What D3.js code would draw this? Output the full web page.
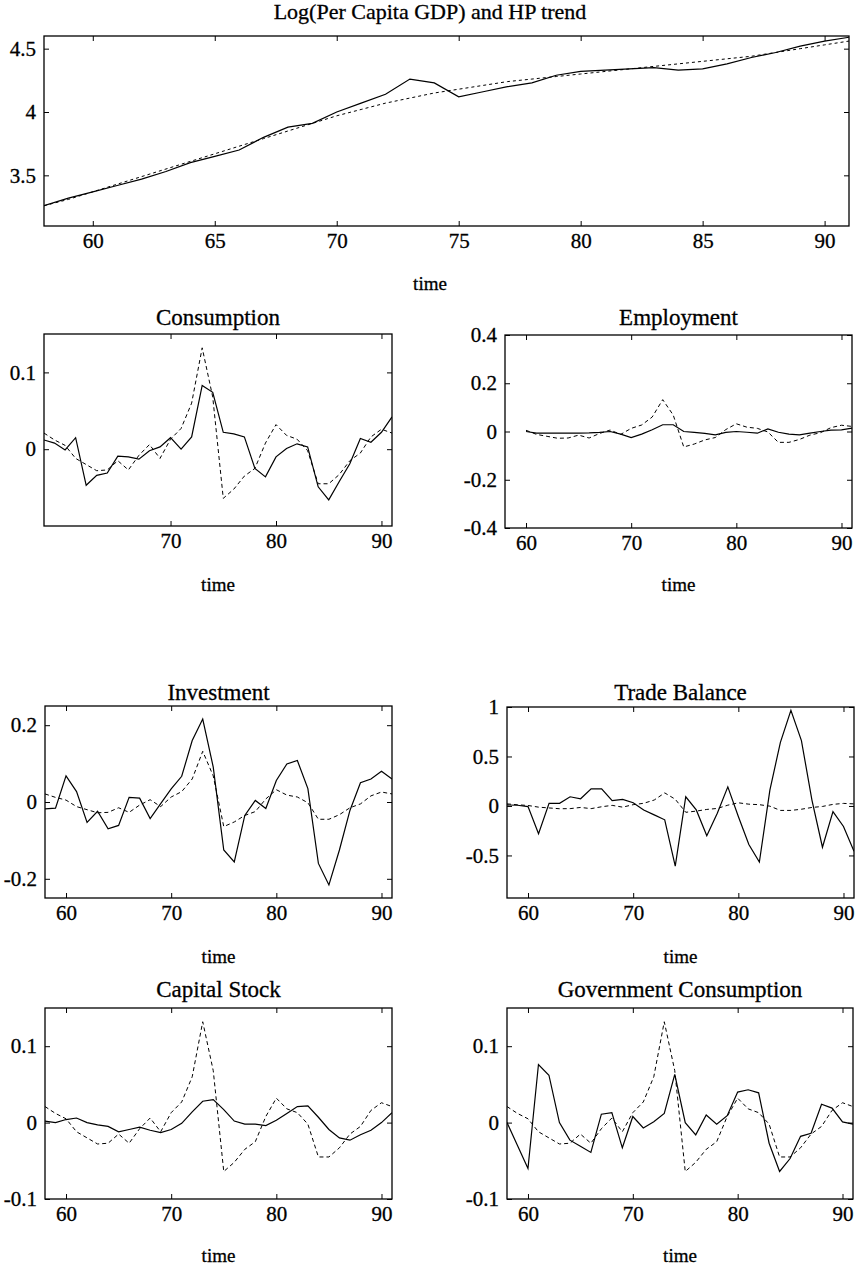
<!DOCTYPE html>
<html>
<head>
<meta charset="utf-8">
<script src="https://cdn.jsdelivr.net/npm/d3@7/dist/d3.min.js"></script>
<style>
body { margin: 0; background: #fff; }
svg text { font-family: "Liberation Serif", "Times New Roman", serif; fill: #000; stroke: #000; stroke-width: 0.3px; }
</style>
</head>
<body>
<svg id="chart" width="859" height="1269"></svg>
<script>
// years 1958-1991 (two digit labels as on the original)
var years = [58,59,60,61,62,63,64,65,66,67,68,69,70,71,72,73,74,75,76,77,78,79,80,81,82,83,84,85,86,87,88,89,90,91];

// top panel: log per capita GDP and its HP trend
var gdpLog   = [3.26,3.32,3.37,3.42,3.47,3.53,3.60,3.65,3.70,3.80,3.88,3.91,4.00,4.07,4.14,4.26,4.23,4.12,4.16,4.20,4.23,4.29,4.32,4.33,4.34,4.35,4.33,4.34,4.38,4.43,4.47,4.52,4.56,4.59];
var gdpTrend = [3.26,3.31,3.37,3.43,3.49,3.55,3.61,3.67,3.73,3.79,3.85,3.91,3.97,4.02,4.07,4.11,4.15,4.18,4.21,4.24,4.26,4.28,4.30,4.32,4.34,4.36,4.38,4.40,4.42,4.44,4.47,4.50,4.53,4.56];

// cyclical component of GDP (dashed line in every small panel)
var gdpCycle = [0.021,0.012,0.005,-0.012,-0.020,-0.028,-0.027,-0.015,-0.027,-0.008,0.006,-0.012,0.013,0.027,0.060,0.132,0.068,-0.064,-0.052,-0.035,-0.025,0.008,0.032,0.018,0.013,-0.002,-0.045,-0.045,-0.033,-0.015,-0.005,0.016,0.026,0.021];

// cyclical components of the other series (solid lines)
var consumption  = [0.012,0.008,-0.001,0.015,-0.047,-0.034,-0.031,-0.009,-0.010,-0.013,-0.002,0.003,0.015,0.000,0.016,0.083,0.074,0.022,0.020,0.016,-0.025,-0.036,-0.010,0.001,0.007,0.003,-0.049,-0.066,-0.042,-0.019,0.014,0.009,0.022,0.042];
var employment   = [null,null,0.000,-0.007,-0.007,-0.007,-0.007,-0.007,-0.006,-0.004,0.000,-0.011,-0.025,-0.011,0.007,0.028,0.028,0.000,-0.004,-0.008,-0.014,-0.004,0.000,-0.003,-0.007,0.011,-0.003,-0.011,-0.014,-0.007,0.000,0.006,0.007,0.014];
var investment   = [-0.018,-0.016,0.068,0.027,-0.053,-0.024,-0.070,-0.061,0.012,0.010,-0.043,-0.004,0.034,0.067,0.160,0.216,0.091,-0.125,-0.156,-0.035,0.004,-0.017,0.056,0.099,0.108,0.035,-0.160,-0.216,-0.125,-0.022,0.050,0.060,0.080,0.060];
var tradeBalance = [0.010,0.007,-0.007,-0.280,0.027,0.027,0.093,0.073,0.173,0.173,0.053,0.067,0.033,-0.040,-0.090,-0.140,-0.607,0.093,-0.040,-0.300,-0.073,0.193,-0.107,-0.390,-0.567,0.160,0.643,0.967,0.660,0.060,-0.417,-0.057,-0.207,-0.457];
var capitalStock = [0.002,0.000,0.004,0.006,0.000,-0.003,-0.005,-0.012,-0.009,-0.006,-0.010,-0.013,-0.009,-0.001,0.014,0.028,0.030,0.017,0.002,-0.002,-0.002,-0.004,0.003,0.012,0.021,0.022,0.007,-0.009,-0.020,-0.023,-0.016,-0.010,0.000,0.013];
var govConsumption = [0.000,-0.030,-0.060,0.076,0.062,0.000,-0.023,-0.031,-0.039,0.011,0.013,-0.033,0.008,-0.007,0.001,0.012,0.063,0.000,-0.016,0.010,-0.002,0.009,0.040,0.043,0.039,-0.027,-0.064,-0.047,-0.018,-0.014,0.024,0.019,0.001,-0.002];

// tick labels
var topXTicks = [60,65,70,75,80,85,90];
var topYTicks = [3.5,4,4.5];
var xTicks = [60,70,80,90];
var consXTicks = [70,80,90];
var consYTicks = [0,0.1];
var empYTicks = [-0.4,-0.2,0,0.2,0.4];
var invYTicks = [-0.2,0,0.2];
var tradeYTicks = [-0.5,0,0.5,1];
var smallYTicks = [-0.1,0,0.1];

var svg = d3.select("#chart");

// panel layout (pixel boxes of the plot frames)
var panels = [
  {title:"Log(Per Capita GDP) and HP trend", solid:gdpLog, dashed:gdpTrend, yDom:[3.1,4.6], xt:topXTicks, yt:topYTicks,
   x0:44, x1:849, y0:36, y1:226, tx:430, ty:11, ly:283, tsize:22, dash:"3,3"},
  {title:"Consumption", solid:consumption, dashed:gdpCycle, yDom:[-0.1,0.15], xt:consXTicks, yt:consYTicks,
   x0:44, x1:392, y0:334, y1:526, ty:317, ly:584},
  {title:"Employment", solid:employment, dashed:gdpCycle, start:60, yDom:[-0.4,0.4], xt:xTicks, yt:empYTicks,
   x0:505, x1:852, y0:335, y1:528, ty:317, ly:584},
  {title:"Investment", solid:investment, dashed:gdpCycle, yDom:[-0.25,0.25], xt:xTicks, yt:invYTicks,
   x0:45, x1:392, y0:706, y1:898, ty:692, ly:956},
  {title:"Trade Balance", solid:tradeBalance, dashed:gdpCycle, yDom:[-0.93,1], xt:xTicks, yt:tradeYTicks,
   x0:507, x1:854, y0:707, y1:898, ty:692, ly:956},
  {title:"Capital Stock", solid:capitalStock, dashed:gdpCycle, yDom:[-0.1,0.15], xt:xTicks, yt:smallYTicks,
   x0:45, x1:392, y0:1008, y1:1199, ty:989, ly:1255},
  {title:"Government Consumption", solid:govConsumption, dashed:gdpCycle, yDom:[-0.1,0.15], xt:xTicks, yt:smallYTicks,
   x0:507, x1:853, y0:1008, y1:1199, ty:989, ly:1255}
];

function fmt(d){ return String(d); }

panels.forEach(function(p, i){
  var g = svg.append("g");
  var x = d3.scaleLinear().domain([58, 91]).range([p.x0, p.x1]);
  var y = d3.scaleLinear().domain(p.yDom).range([p.y1, p.y0]);

  // inward ticks on all four sides, labels bottom and left
  var bottom = g.append("g").attr("transform","translate(0,"+p.y1+")")
    .call(d3.axisBottom(x).tickValues(p.xt).tickSize(-5).tickSizeOuter(0).tickPadding(7).tickFormat(fmt));
  var top = g.append("g").attr("transform","translate(0,"+p.y0+")")
    .call(d3.axisTop(x).tickValues(p.xt).tickSize(-5).tickSizeOuter(0).tickFormat(""));
  var left = g.append("g").attr("transform","translate("+p.x0+",0)")
    .call(d3.axisLeft(y).tickValues(p.yt).tickSize(-5).tickSizeOuter(0).tickPadding(8).tickFormat(fmt));
  var right = g.append("g").attr("transform","translate("+p.x1+",0)")
    .call(d3.axisRight(y).tickValues(p.yt).tickSize(-5).tickSizeOuter(0).tickFormat(""));

  [bottom, top, left, right].forEach(function(a){
    a.attr("font-family", null).attr("font-size", null);
    a.select(".domain").remove();
    a.selectAll(".tick line").attr("stroke","#000").attr("stroke-width",1);
    a.selectAll(".tick text").style("font-size","21px");
  });

  var clipId = "clip" + i;
  g.append("clipPath").attr("id", clipId).append("rect")
    .attr("x", p.x0).attr("y", p.y0).attr("width", p.x1 - p.x0).attr("height", p.y1 - p.y0);

  var start = p.start || 58;
  var line = function(vals){
    return d3.line()
      .defined(function(d, k){ return years[k] >= start && vals[k] != null; })
      .x(function(d, k){ return x(years[k]); })
      .y(function(d){ return y(d); })(vals);
  };

  g.append("path").attr("d", line(p.dashed))
    .attr("clip-path","url(#"+clipId+")")
    .attr("fill","none").attr("stroke","#000").attr("stroke-width",1)
    .attr("stroke-dasharray", p.dash || "4,3");

  g.append("path").attr("d", line(p.solid))
    .attr("clip-path","url(#"+clipId+")")
    .attr("fill","none").attr("stroke","#000").attr("stroke-width",1.2);

  // frame
  g.append("rect").attr("x", p.x0).attr("y", p.y0)
    .attr("width", p.x1 - p.x0).attr("height", p.y1 - p.y0)
    .attr("fill","none").attr("stroke","#000").attr("stroke-width",1.3);

  var cx = p.tx || (p.x0 + p.x1) / 2;
  g.append("text").attr("x", cx).attr("y", p.ty).attr("dy","0.35em")
    .attr("text-anchor","middle").style("font-size",(p.tsize || 23)+"px").text(p.title);
  g.append("text").attr("x", cx).attr("y", p.ly).attr("dy","0.35em")
    .attr("text-anchor","middle").style("font-size","19px").text("time");
});
</script>
</body>
</html>
